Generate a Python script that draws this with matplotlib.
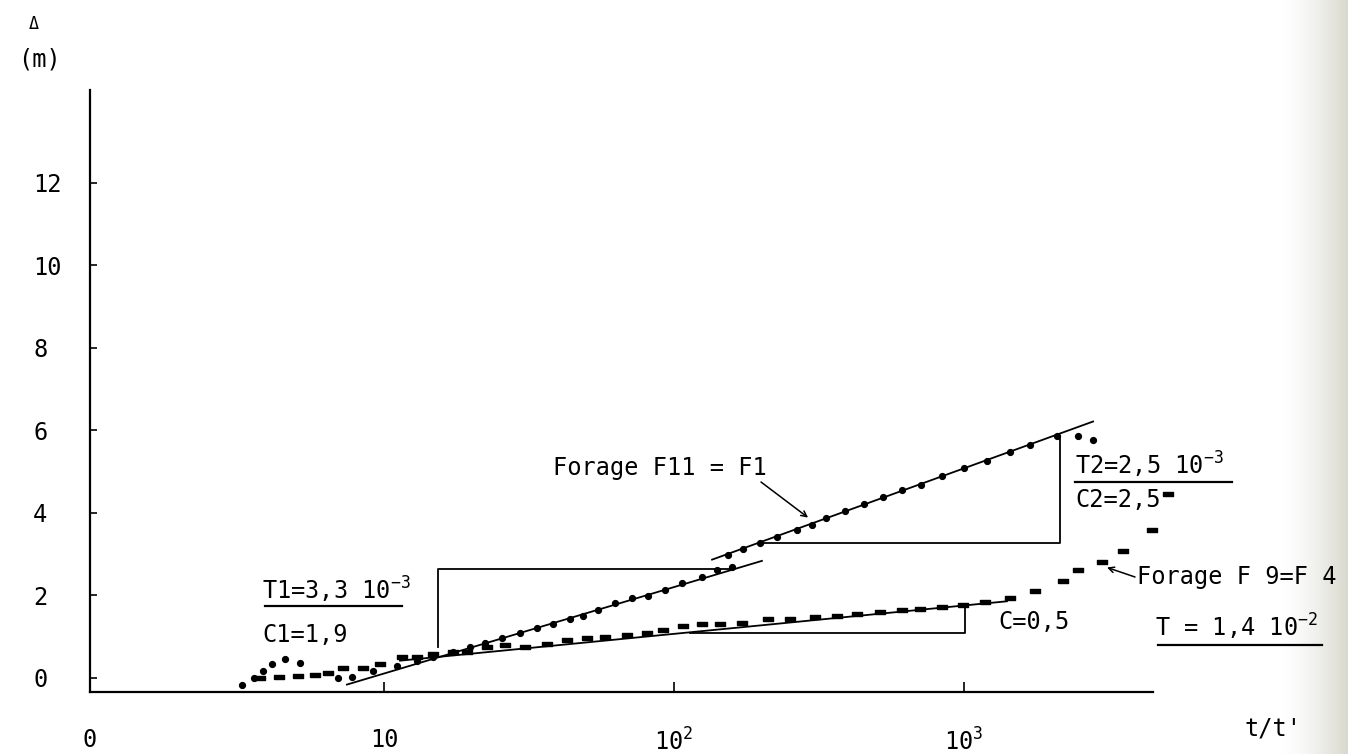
import numpy as np
import matplotlib
matplotlib.use('Agg')
import matplotlib.pyplot as plt
from matplotlib.lines import Line2D

plt.rcParams['font.family'] = ['DejaVu Sans Mono']
plt.rcParams['mathtext.fontset'] = 'custom'
plt.rcParams['mathtext.rm'] = 'DejaVu Sans Mono'
plt.rcParams['mathtext.it'] = 'DejaVu Sans Mono'
plt.rcParams['mathtext.default'] = 'rm'

# ---------------- data ----------------
# Forage F11 = F1 (dots)
f11_t = [3.24, 3.56, 3.83, 4.11, 4.56, 5.13, 6.94,
         7.76, 9.17, 11.09, 13.0, 14.76, 17.3, 19.8, 22.3, 25.5, 29.4, 33.7,
         38.3, 43.8, 48.6, 54.7, 62.6, 71.6, 81.3, 93.1, 106.6, 124.9, 140.7,
         158.5,
         153.6, 172.9, 198.0, 226.6, 265.6, 299.2, 334.3, 388.8, 452.0, 525.6,
         611.3, 710.8, 839.7, 1000, 1200, 1441, 1689, 2093,
         2472, 2786]
f11_y = [-0.17, -0.02, 0.15, 0.34, 0.46, 0.36, 0.00,
         0.02, 0.15, 0.27, 0.41, 0.51, 0.63, 0.73, 0.85, 0.97, 1.09, 1.21,
         1.29, 1.41, 1.50, 1.65, 1.82, 1.92, 1.99, 2.13, 2.30, 2.45, 2.62,
         2.67,
         2.98, 3.13, 3.27, 3.42, 3.57, 3.71, 3.86, 4.03, 4.20, 4.37,
         4.54, 4.68, 4.88, 5.09, 5.26, 5.48, 5.63, 5.85,
         5.85, 5.77]

# Forage F9 = F4 (dashes)
f9_t = [3.74, 4.34, 5.05, 5.78, 6.41, 7.22, 8.46, 9.69, 11.54, 13.0, 14.76,
        17.3, 19.3, 22.7, 26.1, 30.6, 36.5, 42.8, 50.1,
        57.8, 68.9, 80.7, 91.6, 107.4, 124.9, 144.1, 171.6, 210.9, 251.2,
        306.4, 364.8, 427.6, 513.2, 611.3, 705.2, 839.7, 992, 1181,
        1441, 1757, 2194, 2472, 2991, 3533, 4449, 5050]
f9_y = [0.00, 0.02, 0.05, 0.07, 0.10, 0.24, 0.24, 0.32, 0.49, 0.49, 0.56,
        0.61, 0.63, 0.73, 0.78, 0.75, 0.82, 0.92, 0.95,
        0.99, 1.04, 1.09, 1.16, 1.24, 1.29, 1.31, 1.33, 1.41, 1.43,
        1.48, 1.50, 1.55, 1.58, 1.63, 1.67, 1.72, 1.75, 1.84,
        1.92, 2.09, 2.33, 2.62, 2.81, 3.06, 3.59, 4.44]

# fitted straight lines (Jacob)
fit1_t = [7.45, 201];    fit1_y = [-0.17, 2.83]
fit2_t = [135.3, 2786];  fit2_y = [2.86, 6.21]
fit3_t = [11.36, 1406];  fit3_y = [0.41, 1.85]

# slope construction boxes
box1_t = [15.36, 15.36, 156];   box1_y = [0.73, 2.64, 2.64]
tri2_t = [198.0, 2144, 2144];   tri2_y = [3.27, 3.27, 5.85]
box3_t = [113.6, 1008, 1008];   box3_y = [1.09, 1.09, 1.75]

y_ticks = [0, 2, 4, 6, 8, 10, 12]
x_ticks = [10, 100, 1000]
x_ticklabels = ['10', '$10^2$', '$10^3$']

# ---------------- figure ----------------
W, H = 1348, 754
fig = plt.figure(figsize=(W / 100, H / 100), dpi=100)
fig.patch.set_facecolor('white')

def fx(px):
    return px / W

def fy(py):
    return 1 - py / H

ax = fig.add_axes([fx(90), fy(692), fx(1153) - fx(90), fy(90) - fy(692)])
ax.set_xscale('log')
ax.set_xlim(0.969, 4484)
ax.set_ylim(-0.35, 14.25)
ax.set_facecolor('none')
for s in ['top', 'right']:
    ax.spines[s].set_visible(False)
for s in ['left', 'bottom']:
    ax.spines[s].set_linewidth(1.6)

ax.set_yticks(y_ticks)
ax.set_yticklabels([str(v) for v in y_ticks])
ax.set_xticks([0.969] + x_ticks)
ax.set_xticklabels(['0'] + x_ticklabels)
ax.xaxis.set_minor_locator(matplotlib.ticker.NullLocator())
ax.tick_params(axis='y', direction='in', length=5, width=1.2, pad=41, labelsize=17)
ax.tick_params(axis='x', direction='in', length=7, width=1.2, pad=26, labelsize=17)
for lab in ax.get_yticklabels():
    lab.set_horizontalalignment('left')
ax.xaxis.get_major_ticks()[0].tick1line.set_visible(False)

lw = 1.3
ax.plot(fit1_t, fit1_y, color='black', lw=lw)
ax.plot(fit2_t, fit2_y, color='black', lw=lw)
ax.plot(fit3_t, fit3_y, color='black', lw=lw)
ax.plot(box1_t, box1_y, color='black', lw=lw)
ax.plot(tri2_t, tri2_y, color='black', lw=lw)
ax.plot(box3_t, box3_y, color='black', lw=lw)

ax.plot(f11_t, f11_y, linestyle='none', marker='o', ms=4.2, color='black',
        clip_on=False)
dash = [(-1, -0.55), (1, -0.55), (1, 0.55), (-1, 0.55), (-1, -0.55)]
ax.plot(f9_t, f9_y, linestyle='none', marker=dash, ms=6.5, color='black',
        clip_on=False)

def ftext(px, py, s, size=17):
    fig.text(fx(px), fy(py), s, fontsize=size, va='center', ha='left')

def uline(px0, px1, py, lw_=1.6):
    fig.add_artist(Line2D([fx(px0), fx(px1)], [fy(py), fy(py)],
                          transform=fig.transFigure, color='black', lw=lw_))

ftext(29, 24, '\u0394', size=12)
ftext(18, 60, '(m)')
ftext(1245, 728, "t/t'")

ftext(262, 590, 'T1=3,3 10$^{-3}$')
uline(265, 402, 606)
ftext(262, 635, 'C1=1,9')

ftext(553, 468, 'Forage F11 = F1')
ax.annotate('', xy=(290, 3.88), xycoords='data',
            xytext=(fx(761), fy(482)), textcoords='figure fraction',
            arrowprops=dict(arrowstyle='->', lw=1.1, color='black',
                            shrinkA=0, shrinkB=0))

ftext(1075, 465, 'T2=2,5 10$^{-3}$')
uline(1075, 1232, 482)
ftext(1075, 500, 'C2=2,5')

ftext(998, 622, 'C=0,5')

ftext(1137, 577, 'Forage F 9=F 4')
ax.annotate('', xy=(3112, 2.67), xycoords='data',
            xytext=(fx(1135), fy(577)), textcoords='figure fraction',
            arrowprops=dict(arrowstyle='->', lw=1.1, color='black',
                            shrinkA=0, shrinkB=0))

ftext(1155, 627, 'T = 1,4 10$^{-2}$')
uline(1158, 1322, 645)

# scan edge shading on the right
gax = fig.add_axes([fx(1280), 0, 1 - fx(1280), 1])
grad = np.linspace(0, 1, 68) ** 1.5
img = np.ones((2, 68, 3))
for c, v in enumerate([0.85, 0.85, 0.81]):
    img[:, :, c] = 1 - (1 - v) * grad
gax.imshow(img, aspect='auto', extent=[0, 1, 0, 1])
gax.set_axis_off()
gax.set_zorder(-1)

fig.savefig('out.png', dpi=100)
